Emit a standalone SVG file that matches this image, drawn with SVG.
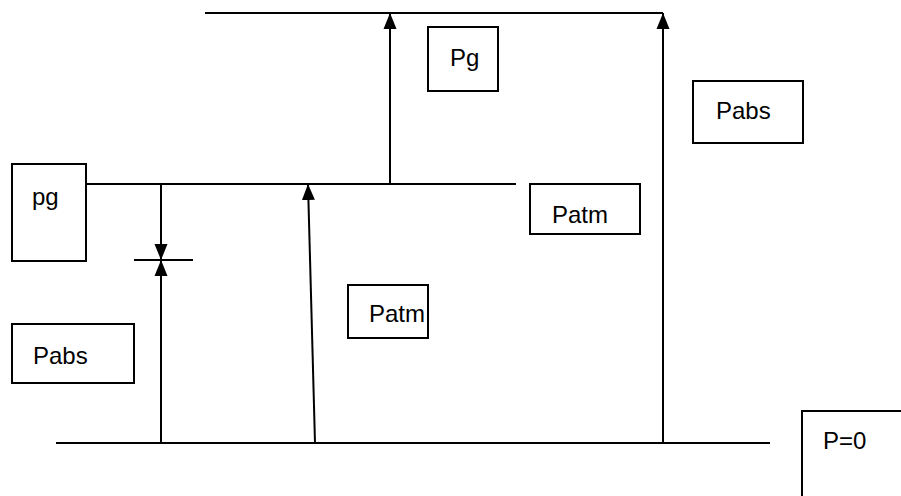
<svg xmlns="http://www.w3.org/2000/svg" width="901" height="496" viewBox="0 0 901 496">
<style>
.ln{stroke:#000;stroke-width:2;fill:none}
.bx{stroke:#000;stroke-width:2;fill:#fff}
.tx{font-family:"Liberation Sans",Arial,sans-serif;font-size:24px;fill:#000}
</style>
<defs>
<marker id="ah" markerUnits="userSpaceOnUse" markerWidth="17" markerHeight="16" viewBox="0 0 17 16" refX="16" refY="8" orient="auto">
<polygon points="0,1.5 16,8 0,14.5" fill="#000"/>
</marker>
</defs>
<rect width="901" height="496" fill="#fff"/>
<g id="connectors">
<line class="ln" x1="205" y1="13" x2="663" y2="13"/>
<line class="ln" x1="87" y1="184" x2="516" y2="184"/>
<line class="ln" x1="56" y1="443" x2="770" y2="443"/>
<line class="ln" x1="134" y1="260" x2="193" y2="260"/>
<line class="ln" x1="390" y1="184" x2="390" y2="13" marker-end="url(#ah)"/>
<line class="ln" x1="663" y1="443" x2="663" y2="13" marker-end="url(#ah)"/>
<line class="ln" x1="315" y1="443" x2="308" y2="184" marker-end="url(#ah)"/>
<line class="ln" x1="161" y1="184" x2="161" y2="260" marker-end="url(#ah)"/>
<line class="ln" x1="161" y1="443" x2="161" y2="260" marker-end="url(#ah)"/>
</g>
<g id="node-pg-top">
<rect class="bx" x="428" y="27" width="70" height="64"/>
<text class="tx" x="450" y="66">Pg</text>
</g>
<g id="node-pabs-right">
<rect class="bx" x="693" y="81" width="110" height="62"/>
<text class="tx" x="716" y="119">Pabs</text>
</g>
<g id="node-patm-right">
<rect class="bx" x="530" y="184" width="110" height="50"/>
<text class="tx" x="552" y="223">Patm</text>
</g>
<g id="node-pg-left">
<rect class="bx" x="12" y="164" width="74" height="97"/>
<text class="tx" x="32" y="205">pg</text>
</g>
<g id="node-patm-mid">
<rect class="bx" x="348" y="285" width="80" height="53"/>
<text class="tx" x="369" y="322">Patm</text>
</g>
<g id="node-pabs-left">
<rect class="bx" x="12" y="324" width="122" height="59"/>
<text class="tx" x="33" y="364">Pabs</text>
</g>
<g id="node-p0">
<rect class="bx" x="802" y="411" width="110" height="90"/>
<text class="tx" x="823" y="449">P=0</text>
</g>
</svg>
